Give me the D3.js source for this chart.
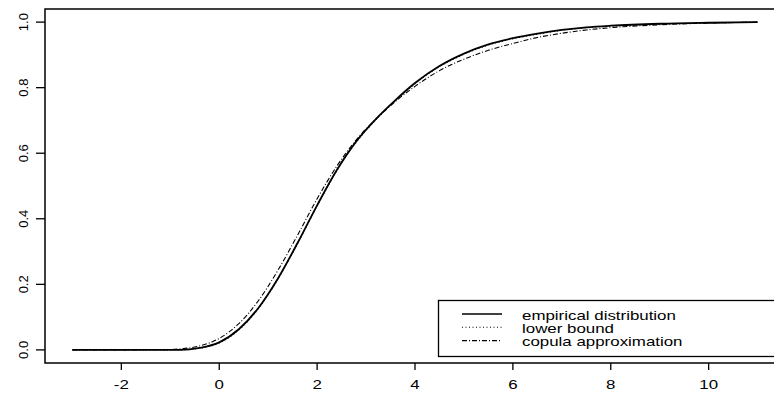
<!DOCTYPE html>
<html>
<head>
<meta charset="utf-8">
<script src="https://cdn.jsdelivr.net/npm/d3@7/dist/d3.min.js"></script>
<style>
  body { margin: 0; background: #fff; }
  text { font-family: "Liberation Sans", Arial, Helvetica, sans-serif; font-size: 13px; fill: #000; }
</style>
</head>
<body>
<script>
const width = 774;
const height = 395;

// grid of x values the curves were read at
const xValues = [-3, -2, -1, -0.8, -0.4, 0, 0.4, 0.8, 1.2, 1.6, 2.0, 2.4, 2.8, 3.2, 3.6, 4.0,
    4.5, 5.0, 5.5, 6.0, 6.5, 7.0, 7.5, 8.0, 9.0, 10.0, 11.0];

const empirical = [0, 0, 0, 0, 0.006, 0.023, 0.063, 0.128, 0.218, 0.326, 0.441, 0.548, 0.636, 0.704,
    0.762, 0.814, 0.866, 0.904, 0.932, 0.951, 0.965, 0.976, 0.984, 0.989, 0.995, 0.998, 1.0];

const lowerBound = [0, 0, 0, 0, 0.005, 0.021, 0.061, 0.126, 0.216, 0.324, 0.439, 0.546, 0.634, 0.702,
    0.760, 0.812, 0.864, 0.902, 0.930, 0.949, 0.963, 0.975, 0.983, 0.988, 0.994, 0.997, 1.0];

const copula = [0, 0, 0.001, 0.003, 0.012, 0.035, 0.080, 0.150, 0.243, 0.350, 0.461, 0.560, 0.641, 0.704,
    0.758, 0.804, 0.852, 0.887, 0.914, 0.935, 0.953, 0.966, 0.976, 0.983, 0.992, 0.997, 1.0];

const xTicks = [-2, 0, 2, 4, 6, 8, 10];
const yTicks = [0, 0.2, 0.4, 0.6, 0.8, 1.0];

const legendLabels = ["empirical distribution", "lower bound", "copula approximation"];
const dashes = [null, "1,2.5", "5,2,1,2"];
const widths = [1.8, 1.1, 1.1];

// R-style plot region: data range padded by 4%
const plotLeft = 45, plotRight = 785, plotTop = 9, plotBottom = 363;
const hStretch = 1.3; // horizontal text appears wider than tall

const x = d3.scaleLinear().domain([-3.56, 11.56]).range([plotLeft, plotRight]);
const y = d3.scaleLinear().domain([-0.04, 1.04]).range([plotBottom, plotTop]);

const svg = d3.select("body")
    .append("svg")
    .attr("width", width)
    .attr("height", height);

const series = [empirical, lowerBound, copula];

const line = d3.line()
    .x((d) => x(d[0]))
    .y((d) => y(d[1]))
    .curve(d3.curveMonotoneX);

// draw copula and bound first so the solid line sits on top
[2, 1, 0].forEach((k) => {
    const pts = xValues.map((v, i) => [v, series[k][i]]);
    svg.append("path")
        .attr("d", line(pts))
        .attr("fill", "none")
        .attr("stroke", "#000")
        .attr("stroke-width", widths[k])
        .attr("stroke-dasharray", dashes[k]);
});

// frame
svg.append("rect")
    .attr("x", plotLeft)
    .attr("y", plotTop)
    .attr("width", plotRight - plotLeft)
    .attr("height", plotBottom - plotTop)
    .attr("fill", "none")
    .attr("stroke", "#000")
    .attr("stroke-width", 1.5);

// x axis ticks + labels
svg.selectAll(".x-tick")
    .data(xTicks)
    .enter()
    .append("line")
    .attr("x1", (d) => x(d))
    .attr("x2", (d) => x(d))
    .attr("y1", plotBottom)
    .attr("y2", plotBottom + 7)
    .attr("stroke", "#000")
    .attr("stroke-width", 1.3);

svg.selectAll(".x-label")
    .data(xTicks)
    .enter()
    .append("text")
    .attr("text-anchor", "middle")
    .attr("transform", (d) => `translate(${x(d)},389) scale(${hStretch},1)`)
    .text((d) => d);

// y axis ticks + labels (rotated, as R does by default)
svg.selectAll(".y-tick")
    .data(yTicks)
    .enter()
    .append("line")
    .attr("x1", plotLeft - 9)
    .attr("x2", plotLeft)
    .attr("y1", (d) => y(d))
    .attr("y2", (d) => y(d))
    .attr("stroke", "#000")
    .attr("stroke-width", 1.3);

svg.selectAll(".y-label")
    .data(yTicks)
    .enter()
    .append("text")
    .attr("text-anchor", "middle")
    .attr("transform", (d) => `translate(28,${y(d)}) rotate(-90)`)
    .text((d) => d.toFixed(1));

// legend
const legend = svg.append("g");

legend.append("rect")
    .attr("x", 438.5)
    .attr("y", 300.5)
    .attr("width", 360)
    .attr("height", 56)
    .attr("fill", "#fff")
    .attr("stroke", "#000")
    .attr("stroke-width", 1.3);

legendLabels.forEach((label, i) => {
    const ly = 314 + i * 13.3;
    legend.append("line")
        .attr("x1", 462)
        .attr("x2", 502)
        .attr("y1", ly)
        .attr("y2", ly)
        .attr("stroke", "#000")
        .attr("stroke-width", i === 0 ? 1.5 : 1.1)
        .attr("stroke-dasharray", dashes[i]);
    legend.append("text")
        .attr("transform", `translate(522,${ly + 5.5}) scale(${hStretch},1)`)
        .text(label);
});
</script>
</body>
</html>
